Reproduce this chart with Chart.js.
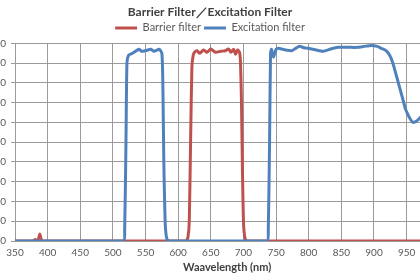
<!DOCTYPE html>
<html>
<head>
<meta charset="utf-8">
<script src="https://cdn.jsdelivr.net/npm/chart.js@4"></script>
<style>
  body { margin: 0; background: #fff; }
  #wrap { width: 420px; height: 280px; overflow: hidden; position: relative; }
  #box { position: absolute; left: -22px; top: 0; width: 480px; height: 280px; }
</style>
</head>
<body>
<div id="wrap"><div id="box"><canvas id="chart"></canvas></div></div>
<script>
// Barrier filter (red)
const barrierWl = [350, 378, 381, 384, 386, 388, 390, 392, 612, 615, 617, 619, 621, 623, 625, 629, 633, 639, 644, 650, 657, 665, 672, 677, 681, 685, 688, 691, 694, 695.5, 697, 698.5, 700, 702, 705, 1000];
const barrierT  = [0, 0, 0.8, 0, 1, 3.5, 1, 0, 0, 2, 10, 50, 88, 94, 95.5, 96.3, 95, 96.7, 95.5, 97.2, 95.5, 96, 96.3, 97.2, 95.5, 97, 94.5, 96.7, 95.5, 90, 70, 35, 10, 2, 0, 0];

// Excitation filter (blue)
const exciteWl = [350, 516, 518, 520, 521.5, 524, 530, 540, 544, 550, 558, 563, 571, 575, 576.5, 578, 580, 582, 585,
  736, 738, 740, 741.5, 743, 746, 750, 754, 760, 767, 774, 780, 786, 793, 799, 810, 822, 835, 845, 860, 875, 885, 896, 905, 911, 918, 924, 929, 934, 939, 944, 948, 952, 956, 960, 964, 968, 975, 985, 1000];
const exciteT  = [0, 0, 5, 50, 90, 94, 95, 97, 96, 96.3, 97, 96, 97, 95, 80, 40, 10, 2, 0,
  0, 5, 50, 95, 97, 93, 97, 97.5, 97, 96.5, 96.3, 97.5, 98.5, 97.8, 97.5, 96.8, 96, 97.3, 98, 98, 98, 98.5, 99, 98.5, 97.5, 96.5, 94, 90, 84, 78, 72, 67, 64, 61.5, 60, 60.5, 61.5, 64, 68, 72];

const xTicks = { min: 350, max: 1000, step: 50 };
const yTicks = { min: 0, max: 100, step: 10 };

const toPoints = (xs, ys) => xs.map((x, i) => ({ x: x, y: ys[i] }));

const gridColor = "#9a9a9a";
const textColor = "#595959";

new Chart(document.getElementById("chart"), {
    type: "line",
    data: {
        datasets: [{
            label: "Barrier filter",
            data: toPoints(barrierWl, barrierT),
            borderColor: "#c0504d",
            backgroundColor: "#c0504d",
            borderWidth: 3,
            pointRadius: 0,
            tension: 0.2,
            order: 1
        }, {
            label: "Excitation filter",
            data: toPoints(exciteWl, exciteT),
            borderColor: "#4f81bd",
            backgroundColor: "#4f81bd",
            borderWidth: 3,
            pointRadius: 0,
            tension: 0.2,
            order: 0
        }]
    },
    options: {
        responsive: true,
        maintainAspectRatio: false,
        animation: false,
        layout: { padding: { left: 0, right: 16, top: 0, bottom: 0 } },
        plugins: {
            title: {
                display: true,
                text: "Barrier Filter／Excitation Filter",
                color: "#404040",
                font: { family: "Lato", size: 12, weight: "bold" },
                padding: { top: 5, bottom: 0 }
            },
            legend: {
                position: "top",
                labels: {
                    color: textColor,
                    font: { family: "Lato", size: 11 },
                    usePointStyle: true,
                    pointStyle: "line",
                    pointStyleWidth: 22,
                    boxHeight: 8,
                    padding: 3,
                    sort: (a, b) => a.datasetIndex - b.datasetIndex
                }
            },
            tooltip: { enabled: false }
        },
        scales: {
            x: {
                type: "linear",
                min: xTicks.min,
                max: xTicks.max,
                ticks: {
                    stepSize: xTicks.step,
                    color: textColor,
                    font: { family: "Lato", size: 10 },
                    padding: 6,
                    maxRotation: 0
                },
                grid: { color: gridColor, lineWidth: 1, drawTicks: false },
                border: { color: gridColor },
                title: {
                    display: true,
                    text: "Waavelength (nm)",
                    color: "#404040",
                    font: { family: "Lato", size: 11, weight: "bold" },
                    padding: { top: 0, bottom: 6 }
                },
                afterFit: (scale) => { scale.height = 39; }
            },
            y: {
                min: yTicks.min,
                max: yTicks.max,
                ticks: {
                    stepSize: yTicks.step,
                    color: textColor,
                    font: { family: "Lato", size: 10 },
                    padding: 5
                },
                grid: { color: gridColor, lineWidth: 1, tickLength: 4 },
                border: { color: gridColor },
                afterFit: (scale) => { scale.width = 37; }
            }
        }
    }
});
</script>
</body>
</html>
